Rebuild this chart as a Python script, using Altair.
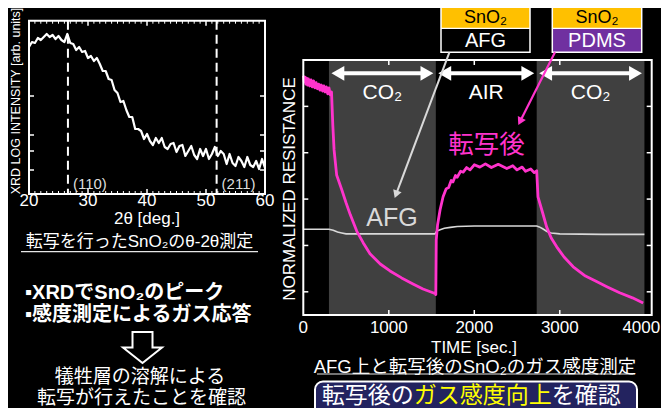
import math
import altair as alt
import pandas as pd

# ---------------- data ----------------
xrd_two_theta = [20.0, 20.5, 21.0, 21.5, 22.0, 22.5, 23.0, 23.5, 24.0, 24.5,
                 25.0, 25.5, 26.0, 26.5, 27.0, 27.5, 28.0, 28.5, 29.0, 29.5,
                 30.0, 30.5, 31.0, 31.5, 32.0, 32.5, 33.0, 33.5, 34.0, 34.5,
                 35.0, 35.5, 36.0, 36.5, 37.0, 37.5, 38.0, 38.5, 39.0, 39.5,
                 40.0, 40.5, 41.0, 41.5, 42.0, 42.5, 43.0, 43.5, 44.0, 44.5,
                 45.0, 45.5, 46.0, 46.5, 47.0, 47.5, 48.0, 48.5, 49.0, 49.5,
                 50.0, 50.5, 51.0, 51.5, 52.0, 52.5, 53.0, 53.5, 54.0, 54.5,
                 55.0, 55.5, 56.0, 56.5, 57.0, 57.5, 58.0, 58.5, 59.0, 59.5, 60.0]
xrd_log_intensity = [147, 152, 151, 156, 154, 157, 160, 157, 159, 155,
                     158, 154, 152, 160, 151, 150, 144, 147, 142, 143,
                     136, 138, 133, 136, 130, 123, 123, 115, 114, 104,
                     101, 92, 93, 84, 77, 77, 65, 65, 63, 55,
                     60, 53, 49, 56, 51, 56, 47, 45, 50, 51,
                     42, 48, 49, 38, 43, 48, 39, 35, 45, 38,
                     45, 35, 40, 47, 38, 43, 40, 30, 40, 31,
                     28, 37, 33, 27, 37, 29, 27, 33, 25, 35, 26]
xrd_peak_angle = [26.6, 51.8]
xrd_peak_label = ["(110)", "(211)"]
xrd_tick_values = [20, 30, 40, 50, 60]
xrd_tick_labels = ["20", "30", "40", "50", "60"]
xrd_major_inner = [30, 40, 50]
xrd_minor_ticks = [21, 22, 23, 24, 25, 26, 27, 28, 29, 31, 32, 33, 34, 35, 36, 37, 38, 39,
                   41, 42, 43, 44, 45, 46, 47, 48, 49, 51, 52, 53, 54, 55, 56, 57, 58, 59]
xrd_y_ticks = [98, 59, 43, 24]
xrd_x_domain = [20, 60]
xrd_y_domain = [0, 173.3]

time_pink = [0, 10, 20, 30, 40, 50, 60, 75, 90, 105, 120, 135, 150, 165, 180, 195, 210, 225,
             240, 255, 270, 285, 300, 315, 330,
             345, 360, 390, 450, 500, 550, 625, 700, 780, 900, 1014, 1150, 1283, 1400, 1517, 1545,
             1550, 1555, 1570, 1600, 1635, 1670, 1700, 1730, 1750, 1780, 1800, 1840, 1870, 1910,
             1950, 2000, 2065, 2130, 2200, 2280, 2380, 2450, 2500, 2560, 2600, 2660, 2700, 2730,
             2745, 2800, 2846, 2900, 2964, 3050, 3157, 3300, 3430, 3550, 3700, 3850, 3975]
resistance_pink = [0.966, 0.953, 0.963, 0.948, 0.961, 0.946, 0.959, 0.944, 0.957, 0.942, 0.955,
                   0.940, 0.951, 0.938, 0.948, 0.935, 0.946, 0.933, 0.944, 0.931, 0.942, 0.927,
                   0.940, 0.925, 0.931,
                   0.860, 0.806, 0.752, 0.720, 0.692, 0.666, 0.631, 0.606, 0.582, 0.560, 0.545,
                   0.530, 0.517, 0.506, 0.498, 0.496,
                   0.494, 0.612, 0.644, 0.677, 0.705, 0.722, 0.725, 0.740, 0.737, 0.751, 0.747,
                   0.760, 0.758, 0.768, 0.763, 0.774, 0.769, 0.776, 0.768, 0.775, 0.766, 0.772,
                   0.763, 0.769, 0.760, 0.765, 0.757, 0.761,
                   0.705, 0.670, 0.640, 0.616, 0.597, 0.575, 0.554, 0.534, 0.522, 0.511, 0.498,
                   0.487, 0.476]
time_afg = [0, 300, 350, 400, 450, 500, 1000, 1540, 1560, 1600, 1650, 1720, 1800, 2000, 2400,
            2730, 2760, 2800, 2850, 2900, 3000, 3500, 3990]
resistance_afg = [0.635, 0.635, 0.633, 0.629, 0.627, 0.625, 0.625, 0.625, 0.631, 0.634, 0.637,
                  0.639, 0.641, 0.642, 0.642, 0.642, 0.640, 0.636, 0.630, 0.627, 0.625, 0.624,
                  0.624]
phase_start = [300, 1550, 2730]
phase_end = [1550, 2730, 3990]
phase_gas = ["CO2", "AIR", "CO2"]
phase_label = ["CO₂", "AIR", "CO₂"]
res_tick_values = [0, 1000, 2000, 3000, 4000]
res_tick_labels = ["0", "1000", "2000", "3000", "4000"]
res_inner_ticks = [1000, 2000, 3000]
res_y_ticks = [0.5, 0.6, 0.7, 0.8, 0.9]
res_x_domain = [0, 4075]
res_y_domain = [0.45, 1.0]

# ---------------- layout (chart pixels) ----------------
W, H = 653, 400
FONT = "'Liberation Sans', 'Noto Sans CJK JP', sans-serif"
XL, XR, XT, XB = 21, 257, 12.7, 186        # XRD frame
RL, RR, RT, RB = 295.3, 643.7, 52, 307     # resistance frame
PINK = "#ff33cc"
GRAYLINE = "#d9d9d9"
TK = 5

XRD_X = alt.Scale(domain=xrd_x_domain, range=[XL, XR], nice=False, zero=False)
XRD_Y = alt.Scale(domain=xrd_y_domain, range=[XB, XT], nice=False, zero=False)
RES_X = alt.Scale(domain=res_x_domain, range=[RL, RR], nice=False, zero=False)
RES_Y = alt.Scale(domain=res_y_domain, range=[RB, RT], nice=False, zero=False)

one = pd.DataFrame({"a": [0]})


def txt(s, x, y, size, color="white", angle=0, align="center", weight="normal"):
    return alt.Chart(pd.DataFrame({"s": [s]})).mark_text(
        align=align, baseline="middle", fontSize=size, color=color, angle=angle,
        fontWeight=weight, font=FONT
    ).encode(x=alt.value(x), y=alt.value(y), text="s:N")


def box(x0, x1, y0, y1, fill, stroke=None, sw=0, radius=0):
    kw = dict(fill=fill, cornerRadius=radius)
    if stroke:
        kw.update(stroke=stroke, strokeWidth=sw)
    return alt.Chart(one).mark_rect(**kw).encode(
        x=alt.value(x0), x2=alt.value(x1), y=alt.value(y0), y2=alt.value(y1))


def outline(x0, x1, y0, y1, sw):
    return alt.Chart(one).mark_rect(fillOpacity=0, stroke="white", strokeWidth=sw).encode(
        x=alt.value(x0), x2=alt.value(x1), y=alt.value(y0), y2=alt.value(y1))


def seg(x0, y0, x1, y1, color, sw):
    return alt.Chart(one).mark_rule(color=color, strokeWidth=sw).encode(
        x=alt.value(x0), y=alt.value(y0), x2=alt.value(x1), y2=alt.value(y1))


def arrow(x0, y0, x1, y1, color, sw, head=80):
    dx, dy = x1 - x0, y1 - y0
    L = math.hypot(dx, dy)
    ux, uy = dx / L, dy / L
    h = math.sqrt(3) * (math.sqrt(head) / 2) / 2
    ang = (math.degrees(math.atan2(dx, -dy)) + 360) % 360
    line = seg(x0, y0, x1 - ux * h, y1 - uy * h, color, sw)
    tip = alt.Chart(one).mark_point(shape="triangle-up", filled=True, size=head, angle=ang,
                                    color=color, opacity=1).encode(
        x=alt.value(x1 - ux * h), y=alt.value(y1 - uy * h))
    return line + tip


# ---------------- XRD panel ----------------
xrd_df = pd.DataFrame({"tt": xrd_two_theta, "I": xrd_log_intensity})
peak_df = pd.DataFrame({"tt": xrd_peak_angle, "lab": xrd_peak_label})
xt_df = pd.DataFrame({"tt": xrd_tick_values, "lab": xrd_tick_labels})
xmaj_df = pd.DataFrame({"tt": xrd_major_inner})
xmin_df = pd.DataFrame({"tt": xrd_minor_ticks})
xy_df = pd.DataFrame({"I": xrd_y_ticks})

XX = alt.X("tt:Q", scale=XRD_X, axis=None)
XY = alt.Y("I:Q", scale=XRD_Y, axis=None)

xrd_layers = [
    alt.Chart(xrd_df).mark_line(color="white", strokeWidth=2.2, strokeJoin="round").encode(x=XX, y=XY),
    alt.Chart(peak_df).mark_rule(color="white", strokeWidth=2, strokeDash=[9, 5]).encode(
        x=XX, y=alt.value(XT), y2=alt.value(XB)),
    alt.Chart(peak_df).mark_text(align="left", baseline="middle", dx=5, fontSize=15,
                                 color="#dddddd", font=FONT).encode(
        x=XX, y=alt.value(175.5), text="lab:N"),
    alt.Chart(xmin_df).mark_rule(color="white", strokeWidth=1).encode(
        x=XX, y=alt.value(XT), y2=alt.value(XT + 3)),
    alt.Chart(xmin_df).mark_rule(color="white", strokeWidth=1).encode(
        x=XX, y=alt.value(XB - 3), y2=alt.value(XB)),
    alt.Chart(xmaj_df).mark_rule(color="white", strokeWidth=1.5).encode(
        x=XX, y=alt.value(XT), y2=alt.value(XT + TK)),
    alt.Chart(xmaj_df).mark_rule(color="white", strokeWidth=1.5).encode(
        x=XX, y=alt.value(XB - TK), y2=alt.value(XB)),
    alt.Chart(xy_df).mark_rule(color="white", strokeWidth=1.5).encode(
        y=XY, x=alt.value(XL), x2=alt.value(XL + TK)),
    alt.Chart(xy_df).mark_rule(color="white", strokeWidth=1.5).encode(
        y=XY, x=alt.value(XR - TK), x2=alt.value(XR)),
    outline(XL, XR, XT, XB, 2),
    alt.Chart(xt_df).mark_text(baseline="middle", fontSize=17, color="white", font=FONT).encode(
        x=XX, y=alt.value(192.5), text="lab:N"),
]
xrd = alt.layer(*xrd_layers)

# ---------------- resistance panel ----------------
pink_df = pd.DataFrame({"t": time_pink, "r": resistance_pink})
afg_df = pd.DataFrame({"t": time_afg, "r": resistance_afg})
phase_df = pd.DataFrame({"start": phase_start, "end": phase_end, "gas": phase_gas,
                         "lab": phase_label})
phase_df["mid"] = (phase_df["start"] + phase_df["end"]) / 2
rt_df = pd.DataFrame({"t": res_tick_values, "lab": res_tick_labels})
rin_df = pd.DataFrame({"t": res_inner_ticks})
ry_df = pd.DataFrame({"r": res_y_ticks})

RX = alt.X("t:Q", scale=RES_X, axis=None)
RY = alt.Y("r:Q", scale=RES_Y, axis=None)
AY = 65.3
HEAD = 220
hh = math.sqrt(3) * (math.sqrt(HEAD) / 2) / 2
GAP = 2.5

res_layers = [
    alt.Chart(phase_df).transform_filter(alt.datum.gas == "CO2").mark_rect(color="#404040").encode(
        x=alt.X("start:Q", scale=RES_X, axis=None), x2="end:Q",
        y=alt.value(RT), y2=alt.value(RB)),
    alt.Chart(afg_df).mark_line(color=GRAYLINE, strokeWidth=1.6).encode(x=RX, y=RY),
    alt.Chart(pink_df).mark_line(color=PINK, strokeWidth=2.8, strokeJoin="round").encode(x=RX, y=RY),
    alt.Chart(rin_df).mark_rule(color="white", strokeWidth=1.5).encode(
        x=RX, y=alt.value(RT), y2=alt.value(RT + TK)),
    alt.Chart(rin_df).mark_rule(color="white", strokeWidth=1.5).encode(
        x=RX, y=alt.value(RB - TK), y2=alt.value(RB)),
    alt.Chart(ry_df).mark_rule(color="white", strokeWidth=1.5).encode(
        y=RY, x=alt.value(RL), x2=alt.value(RL + TK)),
    alt.Chart(ry_df).mark_rule(color="white", strokeWidth=1.5).encode(
        y=RY, x=alt.value(RR - TK), x2=alt.value(RR)),
    outline(RL, RR, RT, RB, 2),
    alt.Chart(rt_df).transform_filter(alt.datum.t < 4000).mark_text(
        baseline="middle", fontSize=17, color="white", font=FONT).encode(
        x=RX, y=alt.value(319.5), text="lab:N"),
    alt.Chart(rt_df).transform_filter(alt.datum.t >= 4000).mark_text(
        baseline="middle", fontSize=17, color="white", font=FONT, dx=-4).encode(
        x=RX, y=alt.value(319.5), text="lab:N"),
    alt.Chart(phase_df).mark_rule(color="white", strokeWidth=4,
                                  xOffset=GAP + 2 * hh - 1, x2Offset=-(GAP + 2 * hh - 1)).encode(
        x=alt.X("start:Q", scale=RES_X, axis=None), x2="end:Q", y=alt.value(AY)),
    alt.Chart(phase_df).mark_point(shape="triangle-left", filled=True, size=HEAD, color="white",
                                   opacity=1, xOffset=GAP + hh).encode(
        x=alt.X("start:Q", scale=RES_X, axis=None), y=alt.value(AY)),
    alt.Chart(phase_df).mark_point(shape="triangle-right", filled=True, size=HEAD, color="white",
                                   opacity=1, xOffset=-(GAP + hh)).encode(
        x=alt.X("end:Q", scale=RES_X, axis=None), y=alt.value(AY)),
    alt.Chart(phase_df).mark_text(baseline="middle", fontSize=21, color="white", font=FONT).encode(
        x=alt.X("mid:Q", scale=RES_X, axis=None), y=alt.value(84.5), text="lab:N"),
]
res = alt.layer(*res_layers)

# ---------------- free decorations ----------------
DOWN_ARROW = "M -0.5 -0.775 L 0.5 -0.775 L 0.5 0 L 0.975 0 L 0 0.775 L -0.975 0 L -0.5 0 Z"
BY = 388          # conclusion text line
BF = 23           # conclusion font size

deco_layers = [
    # XRD texts
    txt("XRD LOG INTENSITY [arb. units]", 7.5, 93, 12.5, angle=270),
    txt("2θ [deg.]", 139, 211, 17),
    txt("転写を行ったSnO₂のθ-2θ測定", 131.5, 233.5, 17),
    seg(13, 243.7, 250, 243.7, "#e6e6e6", 1.2),
    # left bottom texts
    txt("▪XRDでSnO₂のピーク", 17, 285.3, 20, align="left", weight="bold"),
    txt("▪感度測定によるガス応答", 17, 307, 20, align="left", weight="bold"),
    alt.Chart(one).mark_point(shape=DOWN_ARROW, size=1600, filled=False, color="white",
                              strokeWidth=2, opacity=1).encode(
        x=alt.value(134.5), y=alt.value(339.5)),
    txt("犠牲層の溶解による", 132, 369, 19),
    txt("転写が行えたことを確認", 133.5, 389.5, 19),
    # resistance axis titles
    txt("NORMALIZED RESISTANCE", 282, 181, 17, angle=270),
    txt("TIME [sec.]", 466, 340.3, 17),
    txt("AFG上と転写後のSnO₂のガス感度測定", 467, 358.7, 18.5),
    seg(309, 366, 625, 366, "#e6e6e6", 1.2),
    # bottom conclusion box
    box(307, 629, 373.5, 430, "#23235f", "white", 2, 8),
    txt("転写後の", 313.7, BY, BF, align="left"),
    txt("ガス感度向上", 313.7 + 4 * BF, BY, BF, color="#ffff00", align="left"),
    txt("を確認", 313.7 + 10 * BF, BY, BF, align="left"),
    # sample structure boxes
    box(433, 522, -7, 20.3, "#ffc000"),
    box(433, 522, 20.3, 44.3, "black"),
    outline(433, 522, -7, 44.3, 1.5),
    seg(433, 20.3, 522, 20.3, "white", 1.2),
    txt("SnO₂", 477.5, 9.8, 18, color="black"),
    txt("AFG", 477.5, 32.5, 20),
    box(544.3, 633.7, -5, 20.3, "#ffc000"),
    box(544.3, 633.7, 20.3, 44.3, "#7030a0"),
    outline(544.3, 633.7, -5, 44.3, 1.5),
    seg(544.3, 20.3, 633.7, 20.3, "white", 1.2),
    txt("SnO₂", 589, 9.8, 18, color="black"),
    txt("PDMS", 589, 32.5, 20),
    # annotations
    arrow(441.4, 44.3, 386.7, 190, GRAYLINE, 2),
    arrow(547, 44.3, 510.3, 117, PINK, 2.2),
    txt("AFG", 384, 209.5, 25, color=GRAYLINE),
    txt("転写後", 478.5, 136.5, 25.5, color=PINK),
]
deco = alt.layer(*deco_layers)

chart = alt.layer(xrd, res, deco).resolve_scale(
    x="independent", y="independent"
).properties(
    width=W, height=H, background="black", padding=0,
    autosize=alt.AutoSizeParams(type="none"),
).configure_view(strokeWidth=0)

chart.save("out.html", embed_options={"renderer": "svg", "actions": False})
